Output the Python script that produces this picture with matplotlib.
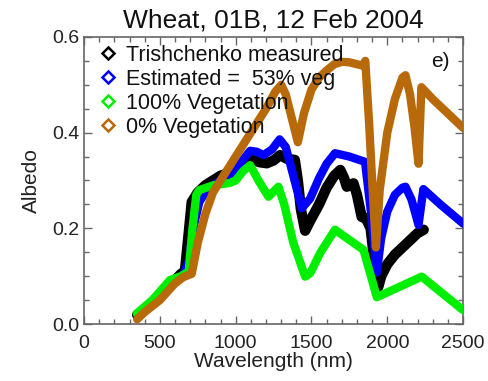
import matplotlib
matplotlib.use("Agg")
import matplotlib.pyplot as plt
from matplotlib.lines import Line2D
from matplotlib.ticker import MultipleLocator, FormatStrFormatter

plt.rcParams['font.family'] = ['Liberation Sans', 'DejaVu Sans']

# Measured albedo (Trishchenko)
wl_meas = [350, 400, 450, 500, 550, 600, 640, 665, 690, 710, 750, 800, 850, 900, 950,
           1000, 1050, 1110, 1160, 1205, 1250, 1293, 1340, 1390, 1410, 1430, 1458,
           1490, 1550, 1600, 1650, 1690, 1715, 1733, 1755, 1777, 1800, 1831, 1860,
           1890, 1915, 1941, 1960, 2000, 2050, 2100, 2150, 2200, 2240]
alb_meas = [0.019, 0.03, 0.045, 0.058, 0.075, 0.092, 0.105, 0.11, 0.19, 0.255, 0.275, 0.29, 0.30, 0.31, 0.315,
            0.322, 0.333, 0.343, 0.338, 0.336, 0.342, 0.353, 0.345, 0.343, 0.30, 0.24, 0.195,
            0.215, 0.25, 0.285, 0.31, 0.322, 0.305, 0.287, 0.29, 0.294, 0.27, 0.224, 0.22,
            0.2, 0.13, 0.078, 0.1, 0.125, 0.145, 0.16, 0.175, 0.19, 0.197]

# Mixture model, 53% vegetation
wl_est = [350, 450, 550, 650, 690, 720, 760, 800, 850, 900, 985, 1040, 1095, 1140, 1183,
          1240, 1290, 1330, 1380, 1436, 1491, 1550, 1600, 1655, 1750, 1853, 1890, 1931,
          1960, 2000, 2050, 2100, 2120, 2160, 2206, 2238, 2350, 2500]
alb_est = [0.02, 0.045, 0.075, 0.1, 0.13, 0.2, 0.255, 0.275, 0.29, 0.30, 0.315, 0.34, 0.362, 0.36, 0.353,
           0.365, 0.386, 0.37, 0.31, 0.242, 0.262, 0.305, 0.335, 0.357, 0.35, 0.339, 0.24, 0.108,
           0.18, 0.235, 0.27, 0.285, 0.287, 0.26, 0.207, 0.282, 0.25, 0.21]

# 100% vegetation
wl_veg = [347, 450, 567, 640, 690, 715, 740, 760, 853, 963, 1000, 1050, 1095, 1150, 1216,
          1282, 1320, 1380, 1458, 1491, 1560, 1655, 1843, 1931, 2227, 2500]
alb_veg = [0.022, 0.05, 0.092, 0.1, 0.11, 0.2, 0.27, 0.28, 0.29, 0.295, 0.3, 0.32, 0.332, 0.3, 0.266,
           0.287, 0.25, 0.17, 0.099, 0.106, 0.15, 0.197, 0.155, 0.056, 0.099, 0.029]

# 0% vegetation (bare soil)
wl_soil = [350, 400, 500, 600, 655, 710, 750, 800, 850, 900, 950, 1000, 1100, 1200, 1260,
           1300, 1330, 1370, 1410, 1450, 1500, 1550, 1600, 1650, 1700, 1750, 1800, 1840,
           1855, 1880, 1900, 1925, 1950, 2000, 2050, 2100, 2120, 2150, 2180, 2206, 2225,
           2300, 2400, 2500]
alb_soil = [0.01, 0.025, 0.05, 0.085, 0.098, 0.105, 0.17, 0.23, 0.275, 0.30, 0.325, 0.35, 0.40, 0.45, 0.485,
            0.50, 0.48, 0.43, 0.38, 0.44, 0.49, 0.515, 0.53, 0.543, 0.548, 0.547, 0.543, 0.54,
            0.55, 0.42, 0.30, 0.16, 0.28, 0.40, 0.47, 0.515, 0.52, 0.48, 0.41, 0.335, 0.495,
            0.47, 0.44, 0.41]

labels = ["Trishchenko measured", "Estimated =  53% veg", "100% Vegetation", "0% Vegetation"]
colors = ["black", "#0000ff", "#00ee00", "#b8690a"]

fig = plt.figure(figsize=(4.89, 3.81), dpi=100)
ax = fig.add_axes([0.172, 0.1496, 0.775, 0.7534])

style = dict(solid_joinstyle='round', solid_capstyle='round')
ax.plot(wl_meas, alb_meas, color=colors[0], lw=7.5, zorder=2, **style)
ax.plot(wl_est, alb_est, color=colors[1], lw=6, zorder=3, **style)
ax.plot(wl_veg, alb_veg, color=colors[2], lw=6, zorder=3, **style)
ax.plot(wl_soil, alb_soil, color=colors[3], lw=6, zorder=4, **style)

ax.set_xlim(0, 2500)
ax.set_ylim(0, 0.6)
ax.xaxis.set_major_locator(MultipleLocator(500))
ax.xaxis.set_minor_locator(MultipleLocator(100))
ax.yaxis.set_major_locator(MultipleLocator(0.2))
ax.yaxis.set_minor_locator(MultipleLocator(0.05))
ax.yaxis.set_major_formatter(FormatStrFormatter('%.1f'))

axis_col = '#666666'
for s in ax.spines.values():
    s.set_color(axis_col)
    s.set_linewidth(1.2)
ax.tick_params(which='both', direction='in', top=True, right=True, color=axis_col,
               labelsize=14, labelcolor='#222222')
ax.tick_params(which='major', length=6, width=1)
ax.tick_params(which='minor', length=3.5, width=1)
ax.tick_params(axis='x', pad=8)

ax.set_xlabel("Wavelength (nm)", fontsize=15, color='#222222', labelpad=0)
ax.set_ylabel("Albedo", fontsize=15, color='#222222', labelpad=8)
ax.set_title("Wheat, 01B, 12 Feb 2004", fontsize=19, color='#111111', pad=7)

handles = [Line2D([], [], linestyle='none', marker='D', markersize=6.5, mfc='none',
                  mec=c, mew=1.8) for c in colors]
ax.legend(handles, labels, loc='upper left', bbox_to_anchor=(0.0, 1.026), frameon=False,
          fontsize=15.5, handlelength=0.8, handletextpad=0.45, labelspacing=0.14,
          borderaxespad=0.3, labelcolor='#111111')

ax.text(0.94, 0.913, "e)", transform=ax.transAxes, fontsize=15, ha='center', va='center',
        color='#111111')

fig.savefig("out.png", dpi=100)
